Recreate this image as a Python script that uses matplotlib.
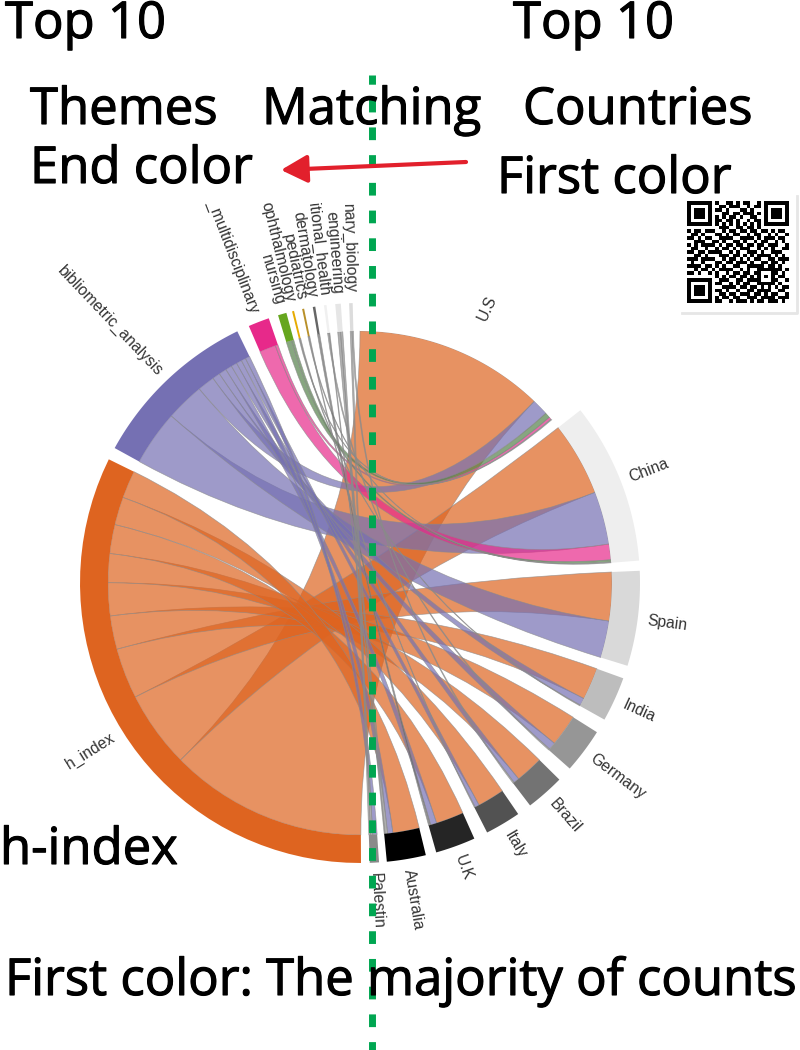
import numpy as np
import matplotlib
matplotlib.use('Agg')
import matplotlib.pyplot as plt
import matplotlib.patheffects as pe
from matplotlib.path import Path
from matplotlib.patches import PathPatch, Polygon

# --- data ---
countries = ['U.S', 'China', 'Spain', 'India', 'Germany', 'Brazil', 'Italy', 'U.K', 'Australia', 'Palestin']
themes = ['h_index', 'bibliometric_analysis', '_multidisciplinary', 'nursing', 'ophthalmology',
          'pediatrics', 'dermatology', 'itional_health', 'engineering', 'nary_biology']

# one list per country, values in theme order
us = [438, 38, 6, 12, 2, 0, 0, 0, 0, 0]
china = [170, 122, 36, 5, 0, 2, 0, 0, 0, 0]
spain = [112, 85, 0, 0, 0, 0, 0, 0, 0, 0]
india = [74, 17, 0, 0, 2, 0, 0, 0, 0, 0]
germany = [73, 17, 0, 0, 0, 0, 0, 3, 0, 0]
brazil = [64, 13, 0, 0, 0, 0, 0, 0, 0, 3]
italy = [62, 10, 0, 0, 0, 2, 0, 0, 0, 0]
uk = [64, 14, 0, 0, 0, 0, 5, 0, 0, 0]
australia = [61, 12, 0, 0, 0, 0, 0, 2, 6, 0]
palestine = [0, 10, 0, 0, 0, 0, 0, 0, 5, 4]
counts = np.array([us, china, spain, india, germany, brazil, italy, uk, australia, palestine], dtype=float)

country_colors = ['#ffffff', '#eeeeee', '#d9d9d9', '#bdbdbd', '#969696', '#737373', '#525252', '#252525', '#000000', '#8a8a8a']
theme_colors = ['#de6420', '#7570b3', '#e7298a', '#66a61e', '#e6ab02', '#b8902a', '#666666', '#f0f0f0', '#e6e6e6', '#dcdcdc']
chord_colors = ['#de6420', '#7570b3', '#e7298a', '#55804a', '#8c8c8c', '#8c8c8c', '#666666', '#8c8c8c', '#8c8c8c', '#8c8c8c']

# gaps between neighbouring sectors, in degrees
country_gaps = [2.3, 2.1, 2.7, 3.0, 3.1, 3.0, 2.9, 2.2, 1.6]
theme_gaps = [2.6, 2.6, 2.0, 1.2, 1.7, 1.8, 1.8, 1.8, 1.7]

qr_rows = [
    '11111110100110101100101111111',
    '10000010011011100101101000001',
    '10111010110100011010001011101',
    '10111010001101101110101011101',
    '10111010101011010011001011101',
    '10000010110110100101101000001',
    '11111110101010101010101111111',
    '00000000011100110110100000000',
    '10110111001011011011011010110',
    '01101000110101100101100101001',
    '11010110011110011110101110110',
    '00111001101001101001011001010',
    '10101111010110110110110111001',
    '01100100101101011100101010011',
    '11011011110010100111010011100',
    '00110100011101101010111101010',
    '11101111001011010101100110111',
    '01001000110110111010011011010',
    '11110110101001100111110110100',
    '00101101011110010100111111101',
    '11010010100101101101100011010',
    '00000000101011011010101010110',
    '11111110011100110111100011001',
    '10000010110010101100111110100',
    '10111010001111011011010101011',
    '10111010110100100110111100110',
    '10111010011011011101101011001',
    '10000010101101100111011110111',
    '11111110110010111010110111010',
]

CX, CY = 360, 583
R_OUT, R_IN = 280, 252


def polar(theta, r):
    t = np.radians(theta)
    return CX + r * np.sin(t), CY - r * np.cos(t)


def arc(t1, t2, r, n=40):
    x, y = polar(np.linspace(t1, t2, n), r)
    return list(zip(x, y))


def layout(totals, gaps, start, end):
    scale = (end - start - sum(gaps)) / totals.sum()
    out = []
    pos = start
    for i, tot in enumerate(totals):
        out.append((pos, pos + tot * scale))
        pos += tot * scale
        if i < len(gaps):
            pos += gaps[i]
    return out, scale


def chord_path(a1, a2, b1, b2):
    # ribbon: arc on b, curve over to a, arc on a, curve back
    verts = arc(b1, b2, R_IN)
    codes = [Path.MOVETO] + [Path.LINETO] * (len(verts) - 1)
    verts += [(CX, CY), polar(a1, R_IN)]
    codes += [Path.CURVE3, Path.CURVE3]
    a_pts = arc(a1, a2, R_IN)[1:]
    verts += a_pts
    codes += [Path.LINETO] * len(a_pts)
    verts += [(CX, CY), polar(b1, R_IN), polar(b1, R_IN)]
    codes += [Path.CURVE3, Path.CURVE3, Path.CLOSEPOLY]
    return Path(verts, codes)


fig = plt.figure(figsize=(8, 10.5), dpi=100)
ax = fig.add_axes([0, 0, 1, 1])
ax.set_xlim(0, 800)
ax.set_ylim(1050, 0)
ax.axis('off')

country_sec, c_scale = layout(counts.sum(axis=1), country_gaps, 0.0, 178.0)
theme_sec, t_scale = layout(counts.sum(axis=0), theme_gaps, 179.8, 358.5)

# sub segments, biggest link first inside each sector
c_seg = {}
for i, (s, _) in enumerate(country_sec):
    pos = s
    for j in np.argsort(-counts[i], kind='stable'):
        if counts[i, j] > 0:
            c_seg[(i, j)] = (pos, pos + counts[i, j] * c_scale)
            pos += counts[i, j] * c_scale
t_seg = {}
for j, (s, _) in enumerate(theme_sec):
    pos = s
    for i in np.argsort(-counts[:, j], kind='stable'):
        if counts[i, j] > 0:
            t_seg[(i, j)] = (pos, pos + counts[i, j] * t_scale)
            pos += counts[i, j] * t_scale

# chords take the colour of the theme
for j in range(len(themes)):
    for i in range(len(countries)):
        if counts[i, j] > 0:
            b1, b2 = c_seg[(i, j)]
            a1, a2 = t_seg[(i, j)]
            ax.add_patch(PathPatch(chord_path(a1, a2, b1, b2), facecolor=chord_colors[j], alpha=0.7,
                                   edgecolor='#8a8a8a', lw=0.5, zorder=2))

for (s, e), col in zip(country_sec + theme_sec, country_colors + theme_colors):
    pts = arc(s, e, R_OUT) + arc(e, s, R_IN)
    ax.add_patch(Polygon(pts, closed=True, facecolor=col, edgecolor='none', zorder=3))

for (s, e), name in zip(country_sec + theme_sec, countries + themes):
    mid = (s + e) / 2
    x, y = polar(mid, R_OUT + 10)
    if mid < 180:
        rot, ha = 90 - mid, 'left'
    else:
        rot, ha = 270 - mid, 'right'
    ax.text(x, y, name, rotation=rot, rotation_mode='anchor', ha=ha, va='center',
            fontsize=11.3, family='Liberation Sans', color='#333333', zorder=4)

# green divider
ax.plot([371.5, 371.5], [75, 1050], color='#00a651', lw=5, zorder=5,
        linestyle=(3.5 / 6.94, (12.7 / 6.94, 15 / 6.94)), dash_capstyle='butt')

# annotations
stroke = [pe.withStroke(linewidth=0.8, foreground='black')]
big = dict(family='Open Sans', color='black', fontsize=36.6, va='baseline', zorder=6, path_effects=stroke)
ax.text(5, 38, 'Top 10', **big)
ax.text(513, 38, 'Top 10', **big)
ax.text(30, 124, 'Themes', **big)
ax.text(262, 124, 'Matching', **big)
ax.text(523, 124, 'Countries', **big)
ax.text(30, 183, 'End color', **big)
ax.text(497, 193, 'First color', **big)
ax.text(0, 864, 'h-index', **big)
ax.text(5, 995, 'First color: The majority of counts', **big)

ax.annotate('', xy=(281, 170), xytext=(466, 162), zorder=6,
            arrowprops=dict(arrowstyle='-|>,head_length=1.6,head_width=0.85', color='#e2202c', lw=3,
                            shrinkA=0, shrinkB=0))

# qr code with its card
ax.plot([682, 797, 797], [313, 313, 196], color='#e6e6e6', lw=2, zorder=1)
qr = np.array([[int(c) for c in row] for row in qr_rows])
ax.imshow(1 - qr, cmap='gray', vmin=0, vmax=1, extent=(687, 789, 303, 201), interpolation='nearest',
          aspect='auto', zorder=6)
ax.set_xlim(0, 800)
ax.set_ylim(1050, 0)

fig.savefig('out.png', dpi=100)
